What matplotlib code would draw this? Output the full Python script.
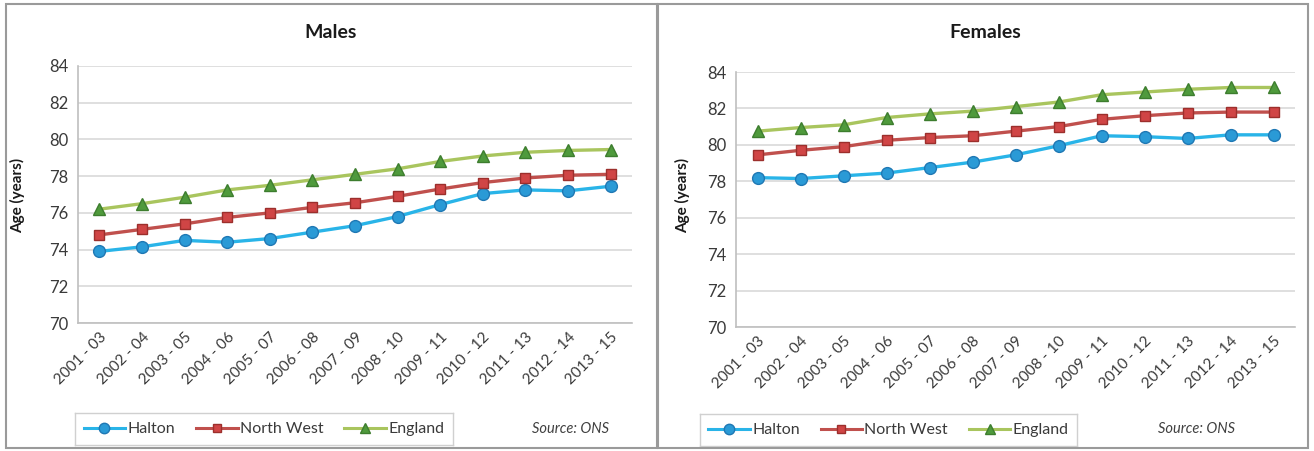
import matplotlib
matplotlib.use("Agg")
import matplotlib.pyplot as plt
from matplotlib.patches import Rectangle
from matplotlib.lines import Line2D

plt.rcParams['font.family'] = ['Lato', 'DejaVu Sans']

periods = ["2001 - 03", "2002 - 04", "2003 - 05", "2004 - 06", "2005 - 07",
           "2006 - 08", "2007 - 09", "2008 - 10", "2009 - 11", "2010 - 12",
           "2011 - 13", "2012 - 14", "2013 - 15"]

males_halton = [73.9, 74.15, 74.5, 74.4, 74.6, 74.95, 75.3, 75.8, 76.45, 77.05, 77.25, 77.2, 77.45]
males_north_west = [74.8, 75.1, 75.4, 75.75, 76.0, 76.3, 76.55, 76.9, 77.3, 77.65, 77.9, 78.05, 78.1]
males_england = [76.2, 76.5, 76.85, 77.25, 77.5, 77.8, 78.1, 78.4, 78.8, 79.1, 79.3, 79.4, 79.45]

females_halton = [78.2, 78.15, 78.3, 78.45, 78.75, 79.05, 79.45, 79.95, 80.5, 80.45, 80.35, 80.55, 80.55]
females_north_west = [79.45, 79.7, 79.9, 80.25, 80.4, 80.5, 80.75, 81.0, 81.4, 81.6, 81.75, 81.8, 81.8]
females_england = [80.75, 80.95, 81.1, 81.5, 81.7, 81.85, 82.1, 82.35, 82.75, 82.9, 83.05, 83.15, 83.15]

y_ticks = [70, 72, 74, 76, 78, 80, 82, 84]

series_style = {
    "Halton": dict(color="#29b4e8", marker="o", mfc="#2a9ad6", mec="#1f78b4", ms=8.5),
    "North West": dict(color="#c0504d", marker="s", mfc="#d04545", mec="#9c2f2c", ms=7.0),
    "England": dict(color="#a9c55e", marker="^", mfc="#4f9a3c", mec="#3d7d2e", ms=8.0),
}

text_col = "#3a3a3a"
grid_col = "#d9d9d9"

fig = plt.figure(figsize=(13.14, 4.51), dpi=100)
W, H = 1314, 451

def px_rect(x0, y0, x1, y1):
    return [x0 / W, 1 - y1 / H, (x1 - x0) / W, (y1 - y0) / H]

# panel frames
for (x0, y0, x1, y1) in [(6, 4, 657, 448), (658, 4, 1308, 448)]:
    fig.patches.append(Rectangle((x0 / W, 1 - y1 / H), (x1 - x0) / W, (y1 - y0) / H,
                                 transform=fig.transFigure, fill=False,
                                 edgecolor="#9a9a9a", linewidth=1.5))

panels = [
    ("Males", px_rect(78, 66, 632, 323), (males_halton, males_north_west, males_england),
     331, 18, px_rect(75, 413, 453, 445), 570),
    ("Females", px_rect(736, 72, 1295, 327), (females_halton, females_north_west, females_england),
     985, 683, px_rect(700, 414, 1077, 446), 1196),
]

for title, rect, data, title_x, ylabel_x, leg_rect, src_x in panels:
    ax = fig.add_axes(rect)
    x = list(range(len(periods)))
    for name, vals in zip(["Halton", "North West", "England"], data):
        st = series_style[name]
        ax.plot(x, vals, color=st["color"], lw=2.4, marker=st["marker"],
                markerfacecolor=st["mfc"], markeredgecolor=st["mec"],
                markersize=st["ms"], markeredgewidth=1.0, zorder=3)
    ax.set_xlim(-0.5, len(periods) - 0.5)
    ax.set_ylim(70, 84)
    ax.set_yticks(y_ticks)
    ax.set_yticklabels([str(v) for v in y_ticks], fontsize=12, color=text_col)
    ax.set_xticks(x)
    ax.set_xticklabels(periods, rotation=45, ha="right", rotation_mode="anchor",
                       fontsize=11, color=text_col)
    ax.tick_params(axis="both", length=0, pad=7)
    ax.tick_params(axis="x", pad=5)
    ax.grid(axis="y", color=grid_col, lw=1.2)
    ax.set_axisbelow(True)
    for s in ["top", "right"]:
        ax.spines[s].set_visible(False)
    ax.spines["left"].set_color("#bfbfbf")
    ax.spines["bottom"].set_color("#bfbfbf")
    ax.spines["left"].set_linewidth(1.2)
    ax.spines["bottom"].set_linewidth(1.2)

    fig.text(title_x / W, 1 - 32 / H, title, ha="center", va="center",
             fontsize=14, fontweight="bold", color="#1a1a1a")
    fig.text(ylabel_x / W, 1 - 195 / H, "Age (years)", rotation=90,
             ha="center", va="center", fontsize=11, fontweight="bold", color="#1a1a1a")

    # legend box
    lax = fig.add_axes(leg_rect)
    lax.set_xlim(0, 1)
    lax.set_ylim(0, 1)
    lax.set_xticks([])
    lax.set_yticks([])
    for s in lax.spines.values():
        s.set_color("#d0d0d0")
        s.set_linewidth(1.0)
    handles = []
    for name in ["Halton", "North West", "England"]:
        st = series_style[name]
        handles.append(Line2D([], [], color=st["color"], lw=2.2, marker=st["marker"],
                              markerfacecolor=st["mfc"], markeredgecolor=st["mec"],
                              markersize=st["ms"] - 1.0, markeredgewidth=1.0))
    lax.legend(handles, ["Halton", "North West", "England"], loc="center", ncol=3,
               frameon=False, fontsize=11.5, handlelength=2.6, handletextpad=0.15,
               columnspacing=1.3, labelcolor=text_col)

    fig.text(src_x / W, 1 - 429 / H, "Source: ONS", ha="center", va="center",
             fontsize=10.5, style="italic", color="#404040")

fig.savefig("out.png", dpi=100)
